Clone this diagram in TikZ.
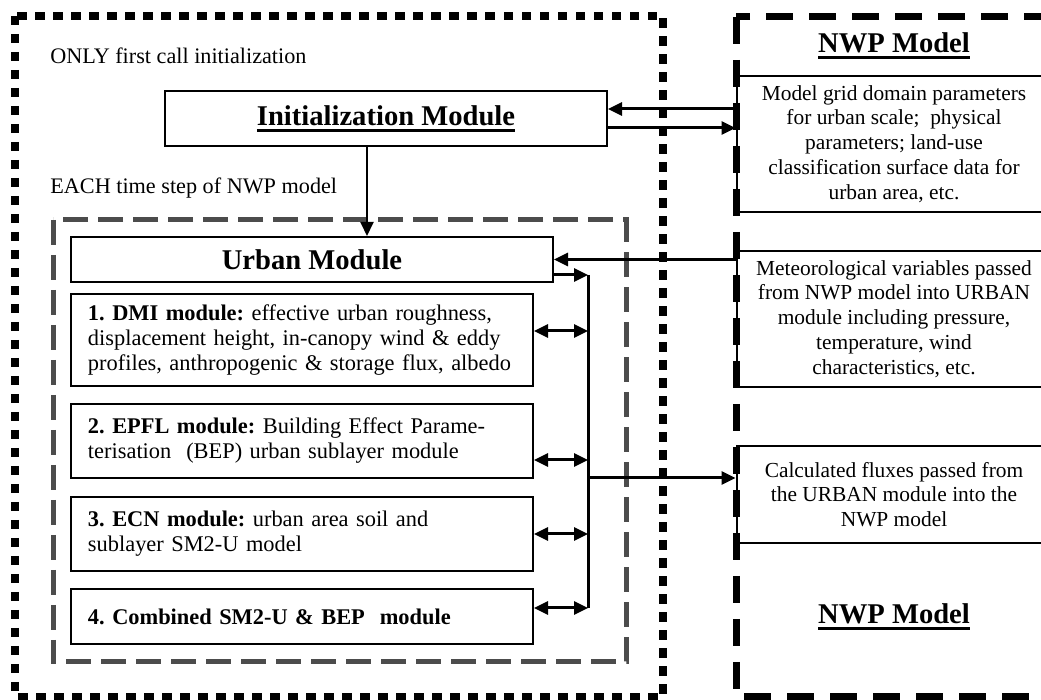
\documentclass[tikz,border=0pt]{standalone}
\usepackage{fontspec}
\setmainfont{Liberation Serif}
\usetikzlibrary{arrows.meta}
\frenchspacing
\newcommand{\ulhead}[1]{\setbox0=\hbox{\bfseries #1}\vtop{\copy0\kern1.5pt\hrule height 1.5pt width \wd0}}

\begin{document}
\begin{tikzpicture}[x=0.5pt, y=-0.5pt,
  frame/.style={line width=4pt, dash pattern=on 4.75pt off 4.25pt},
  nwpframe/.style={line width=3.5pt, dash pattern=on 13.5pt off 8pt},
  stepframe/.style={line width=2.5pt, draw=black!70, dash pattern=on 12.5pt off 5pt},
  modbox/.style={draw, line width=1pt, inner xsep=8.5pt, inner ysep=0pt, text width=214pt, align=left, font=\fontsize{11.2}{12.5}\selectfont},
  nwpbox/.style={draw, line width=1pt, inner sep=0pt, minimum width=157.5pt, align=center, font=\fontsize{10.7}{12.4}\selectfont},
  headbox/.style={draw, line width=1pt, inner sep=0pt, font=\fontsize{14.3}{17}\selectfont\bfseries},
  title/.style={anchor=base, inner sep=0pt, font=\fontsize{14.3}{17}\selectfont\bfseries},
  note/.style={anchor=base west, inner sep=0pt, font=\fontsize{11.1}{13}\selectfont},
  arr/.style={line width=1.5pt, >={Triangle[length=7pt, width=6.5pt]}}]
\useasboundingbox (0,0) rectangle (1041,700);
\clip (0,0) rectangle (1041,700);
\draw[frame] (15,16) rectangle (663,697);
\draw[nwpframe] (736,17) rectangle (1052,697);
\draw[stepframe] (53,220) rectangle (626,662);

\node[note] (once) at (50,64) {ONLY first call initialization};
\node[note] (each) at (50,194) {EACH time step of NWP model};

\node[headbox, minimum width=221pt, minimum height=27.5pt] (init) at (386,118.5) {\ulhead{Initialization Module}};
\node[headbox, minimum width=241pt, minimum height=22.5pt] (urban) at (312,259.5) {Urban Module};

\node[modbox, minimum height=46pt] (dmi) at (302,340) {\textbf{1. DMI module:} effective urban roughness,\\ displacement height, in-canopy wind \& eddy\\ profiles, anthropogenic \& storage flux, albedo};
\node[modbox, minimum height=37pt] (epfl) at (302,441) {\textbf{2. EPFL module:} Building Effect Parame-\\terisation~ (BEP) urban sublayer module};
\node[modbox, minimum height=37pt] (ecn) at (302,534) {\textbf{3. ECN module:} urban area soil and\\ sublayer SM2-U model};
\node[modbox, minimum height=27.5pt] (comb) at (302,616.5) {\textbf{4. Combined SM2-U \& BEP~ module}};

\node[title] (nwptop) at (894,53) {\ulhead{NWP Model}};
\node[title] (nwpbot) at (894,624) {\ulhead{NWP Model}};
\node[nwpbox, minimum height=68pt] (grid) at (894,144) {Model grid domain parameters\\ for urban scale;~ physical\\ parameters; land-use\\ classification surface data for\\ urban area, etc.};
\node[nwpbox, minimum height=68pt] (meteo) at (894,319) {Meteorological variables passed\\ from NWP model into URBAN\\ module including pressure,\\ temperature, wind\\ characteristics, etc.};
\node[nwpbox, minimum height=48.5pt] (flux) at (894,494.5) {Calculated fluxes passed from\\ the URBAN module into the\\ NWP model};

\coordinate (bustop) at (588,275);
\coordinate (busbot) at (588,608);
\draw[arr] (bustop) -- (busbot);

\draw[arr, ->] ([yshift=4.75pt]grid.west |- init.east) -- ([yshift=4.75pt]init.east);
\draw[arr, ->] ([yshift=-4.75pt]init.east) -- ([yshift=-4.75pt]init.east -| grid.west);
\draw[arr, ->, line width=1pt] ([xshift=-9.5pt]init.south) -- ([xshift=-9.5pt]init.south |- urban.north);
\draw[arr, ->] (meteo.west |- urban.east) -- (urban.east);
\draw[arr, ->] (urban.east |- bustop) -- (bustop);
\foreach \m/\s in {dmi/4.5pt, epfl/-9.5pt, ecn/0pt, comb/4.25pt}
  \draw[arr, <->] ([yshift=\s]\m.east) -- ([yshift=\s]\m.east -| bustop);
\draw[arr, ->] ([yshift=8.25pt]flux.west -| bustop) -- ([yshift=8.25pt]flux.west);
\end{tikzpicture}
\end{document}
